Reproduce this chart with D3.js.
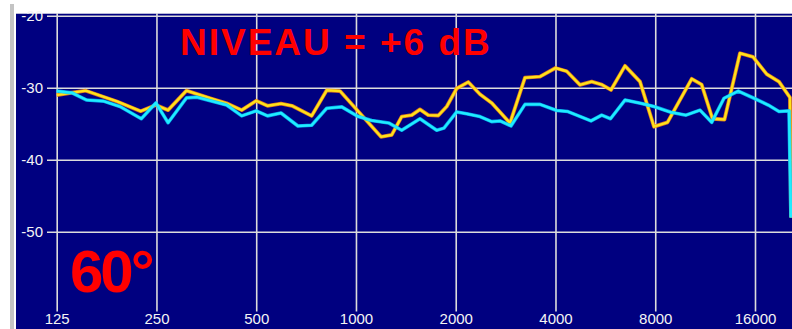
<!DOCTYPE html>
<html>
<head>
<meta charset="utf-8">
<script src="https://cdn.jsdelivr.net/npm/d3@7"></script>
<style>
  html, body { margin: 0; padding: 0; background: #ffffff; }
  svg { display: block; }
</style>
</head>
<body>
<svg id="chart" width="792" height="329"></svg>
<script>
// ---- data ----
const freqTicks = [125, 250, 500, 1000, 2000, 4000, 8000, 16000];
const dbTicks = [-20, -30, -40, -50];

const yellowFreq = [125, 153, 190, 224, 249, 271, 308, 363, 407, 452, 500, 541, 594, 641, 735, 816, 895,
  1190, 1282, 1374, 1473, 1560, 1653, 1772, 1879, 2013, 2182, 2367, 2568, 2916, 3236, 3592, 4000, 4324,
  4743, 5144, 5515, 5882, 6484, 7196, 7930, 8710, 10306, 11045, 11909, 12944, 14413, 15773, 17351, 18900,
  20400, 20540];
const yellowDb = [-31.0, -30.4, -31.9, -33.25, -32.4, -33.1, -30.4, -31.45, -32.15, -33.1, -31.8, -32.5, -32.2,
  -32.5, -33.9, -30.35, -30.45, -36.8, -36.55, -34.0, -33.8, -33.0, -33.8, -33.85, -32.6, -30.1, -29.2,
  -30.9, -32.1, -34.9, -28.6, -28.45, -27.25, -27.7, -29.6, -29.15, -29.55, -30.3, -26.95, -29.15, -35.4,
  -34.8, -28.75, -29.55, -34.3, -34.4, -25.2, -25.7, -28.1, -29.15, -31.35, -48];

const cyanFreq = [125, 139, 154, 173, 194, 225, 249, 271, 308, 331, 407, 452, 500, 541, 594, 668, 735, 816,
  906, 1011, 1115, 1258, 1374, 1560, 1752, 1843, 2013, 2158, 2367, 2568, 2720, 2936, 3236, 3592, 4033,
  4363, 5119, 5515, 5862, 6484, 7220, 7930, 8924, 9905, 10917, 11842, 12899, 14245, 15888, 17546, 18900,
  20262, 20540];
const cyanDb = [-30.45, -30.7, -31.7, -31.85, -32.6, -34.3, -32.1, -34.85, -31.4, -31.3, -32.4, -33.9, -33.2,
  -33.9, -33.5, -35.3, -35.2, -32.85, -32.65, -33.95, -34.55, -34.9, -35.9, -34.3, -35.9, -35.6, -33.35,
  -33.6, -34.0, -34.7, -34.6, -35.3, -32.3, -32.3, -33.15, -33.3, -34.6, -33.8, -34.3, -31.7, -32.15,
  -32.6, -33.4, -33.8, -33.1, -34.8, -31.45, -30.45, -31.45, -32.4, -33.3, -33.2, -48];

const titleText = "NIVEAU = +6 dB";
const angleText = "60°";

// ---- drawing ----
const W = 792, H = 329;
const svg = d3.select("#chart");
const plot = { left: 16, top: 13, right: W, bottom: H };

const x = d3.scaleLog().domain([125, 16000]).range([56.7, 755]);
const y = d3.scaleLinear().domain([-20, -60]).range([15.8, 303.8]);

// page frame
svg.append("rect").attr("x", 0).attr("y", 0).attr("width", W).attr("height", H).attr("fill", "#ffffff");
svg.append("rect").attr("x", 10).attr("y", 4).attr("width", 4).attr("height", H - 4).attr("fill", "#c4c4c4");
svg.append("rect").attr("x", plot.left).attr("y", plot.top)
  .attr("width", plot.right - plot.left).attr("height", plot.bottom - plot.top)
  .attr("fill", "#000080");
svg.append("line").attr("x1", plot.left).attr("x2", W).attr("y1", plot.top + 0.5).attr("y2", plot.top + 0.5)
  .attr("stroke", "#b8b8d8").attr("stroke-width", 1);

// vertical grid + x labels
const xAxis = d3.axisBottom(x)
  .tickValues(freqTicks)
  .tickFormat(d3.format("d"))
  .tickSize(311.5 - plot.top)
  .tickPadding(2);
const gx = svg.append("g").attr("transform", `translate(0,${plot.top})`).call(xAxis);
gx.select(".domain").remove();
gx.selectAll(".tick line").attr("stroke", "#dcdcdc").attr("stroke-width", 1.6);
gx.selectAll(".tick text")
  .attr("fill", "#f4f4f4")
  .attr("font-family", "'Liberation Sans', Arial, sans-serif")
  .attr("font-size", 15);

// horizontal grid + y labels
const yAxis = d3.axisLeft(y)
  .tickValues(dbTicks)
  .tickFormat(d => String(d))
  .tickSize(-(W - 47))
  .tickPadding(4);
const gy = svg.append("g").attr("transform", "translate(47,0)").call(yAxis);
gy.select(".domain").remove();
gy.selectAll(".tick line").attr("stroke", "#dcdcdc").attr("stroke-width", 1.6);
gy.selectAll(".tick text")
  .attr("fill", "#f4f4f4")
  .attr("font-family", "'Liberation Sans', Arial, sans-serif")
  .attr("font-size", 15);

// clip
svg.append("clipPath").attr("id", "plotclip").append("rect")
  .attr("x", plot.left).attr("y", plot.top)
  .attr("width", plot.right - plot.left).attr("height", plot.bottom - plot.top);

const line = d3.line().x(d => x(d[0])).y(d => y(d[1]));
const yellowData = yellowFreq.map((f, i) => [f, yellowDb[i]]);
const cyanData = cyanFreq.map((f, i) => [f, cyanDb[i]]);

const curves = svg.append("g").attr("clip-path", "url(#plotclip)");
curves.append("path").datum(yellowData).attr("d", line)
  .attr("fill", "none").attr("stroke", "#ff8a10").attr("stroke-width", 3.8)
  .attr("stroke-linejoin", "round").attr("opacity", 0.85);
curves.append("path").datum(yellowData).attr("d", line)
  .attr("fill", "none").attr("stroke", "#ffe21a").attr("stroke-width", 2.4)
  .attr("stroke-linejoin", "round");
curves.append("path").datum(cyanData).attr("d", line)
  .attr("fill", "none").attr("stroke", "#00c8ff").attr("stroke-width", 3.6)
  .attr("stroke-linejoin", "round").attr("opacity", 0.8);
curves.append("path").datum(cyanData).attr("d", line)
  .attr("fill", "none").attr("stroke", "#20ecff").attr("stroke-width", 2.4)
  .attr("stroke-linejoin", "round");

// annotations
svg.append("text")
  .attr("x", 180).attr("y", 55)
  .attr("fill", "#ff0000")
  .attr("font-family", "'Liberation Sans', Arial, sans-serif")
  .attr("font-weight", "bold")
  .attr("font-size", 37)
  .attr("letter-spacing", 2)
  .text(titleText);

svg.append("text")
  .attr("x", 70).attr("y", 291.5)
  .attr("fill", "#ff0000")
  .attr("font-family", "'Liberation Sans', Arial, sans-serif")
  .attr("font-weight", "bold")
  .attr("font-size", 60)
  .attr("letter-spacing", -3)
  .text(angleText);
</script>
</body>
</html>
